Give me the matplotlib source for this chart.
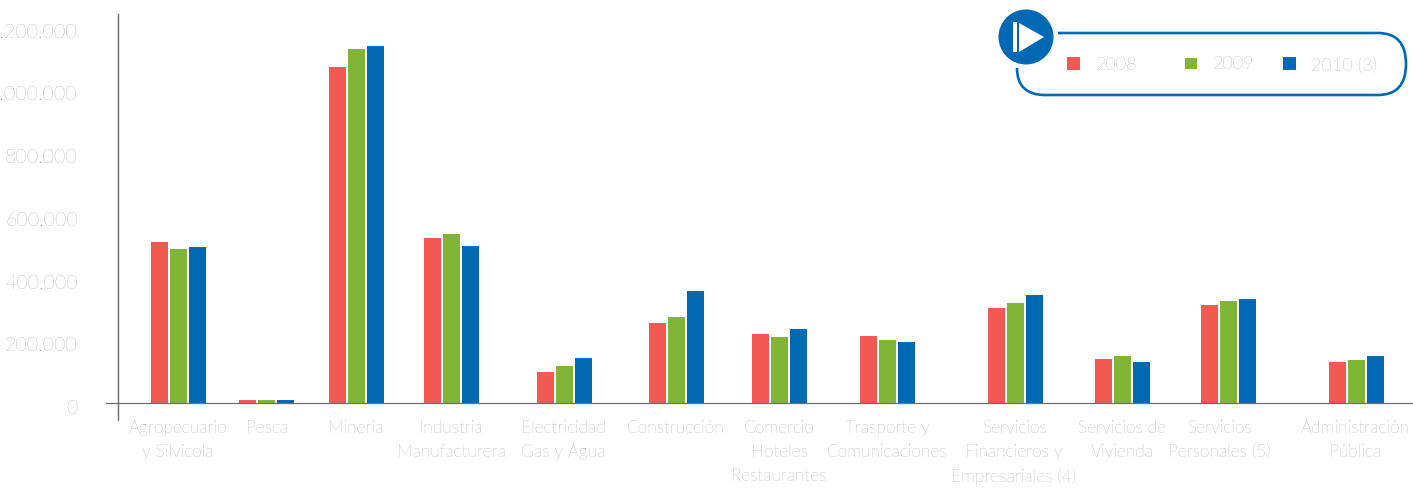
import matplotlib
matplotlib.use("Agg")
import matplotlib.pyplot as plt
import numpy as np
from matplotlib.path import Path
from matplotlib.patches import PathPatch, Circle, Polygon, Rectangle
from matplotlib.transforms import ScaledTranslation

categories = ["Agropecuario\ny Silvícola", "Pesca", "Minería", "Industria\nManufacturera",
              "Electricidad\nGas y Agua", "Construcción", "Comercio\nHoteles\nRestaurantes",
              "Trasporte y\nComunicaciones", "Servicios\nFinancieros y\nEmpresariales (4)",
              "Servicios de\nVivienda", "Servicios\nPersonales (5)", "Administración\nPública"]
series_names = ["2008", "2009", "2010 (3)"]
v2008 = [513000, 10000, 1072000, 526000, 99000, 255000, 220000, 214000, 303000, 140000, 313000, 131000]
v2009 = [491000, 10000, 1129000, 539000, 118000, 274000, 210000, 201000, 319000, 150000, 325000, 137000]
v2010 = [498000, 10000, 1139000, 501000, 144000, 357000, 236000, 195000, 344000, 131000, 332000, 150000]
y_ticks = [0, 200000, 400000, 600000, 800000, 1000000, 1200000]
y_labels = ["0", "200.000", "400.000", "600.000", "800.000", "1.000.000", "1.200.000"]

# layout (pixel-like positions of the unevenly spaced groups)
group_x = [178.5, 266.5, 356.5, 451.5, 564, 676.5, 779.5, 887.5, 1015.5, 1122.5, 1228.5, 1356]
label_x = [178, 267, 356, 451, 563, 676, 779, 887, 1014, 1122, 1219, 1355]
colors = ["#F15A52", "#82B537", "#0069B4"]
gray = "#808080"
W, H = 1413, 492
plt.rcParams['font.family'] = ['Lato', 'DejaVu Sans']

fig = plt.figure(figsize=(W/100, H/100), dpi=100)
k = 0.0003135
top_px, bot_px, base_px, left_px = 14, 420, 403, 118
ax = fig.add_axes([left_px/W, 1-bot_px/H, (W-left_px)/W, (bot_px-top_px)/H])
ax.set_xlim(left_px, W)
ax.set_ylim(-(bot_px-base_px)/k, (base_px-top_px)/k)

for off, vals, c, name in zip((-19, 0, 19), (v2008, v2009, v2010), colors, series_names):
    ax.bar(np.array(group_x)+off, vals, width=17, color=c, label=name, zorder=2)

ax.axhline(0, color="#6e6e6e", lw=0.9, zorder=3)
ax.plot([106, left_px], [0, 0], color="#6e6e6e", lw=0.9, clip_on=False, zorder=3)

for s in ("top", "right", "bottom"):
    ax.spines[s].set_visible(False)
ax.spines["left"].set_color("#6e6e6e")
ax.spines["left"].set_linewidth(1.0)

ax.set_yticks(y_ticks)
ax.set_yticklabels(y_labels, fontsize=14, color=gray, fontweight="light")
ax.tick_params(axis="y", length=0, pad=29)
shift = ScaledTranslation(0, -4/72*0.72, fig.dpi_scale_trans)
for t in ax.get_yticklabels():
    t.set_transform(t.get_transform() + shift)

ax.set_xticks(label_x)
ax.set_xticklabels(categories, fontsize=12.5, color=gray, fontweight="light", linespacing=1.62, va="top")
ax.tick_params(axis="x", length=0, pad=0)
shift_x = ScaledTranslation(0, 0, fig.dpi_scale_trans)

# legend decoration in pixel coordinates
ov = fig.add_axes([0, 0, 1, 1], zorder=5)
ov.set_xlim(0, W); ov.set_ylim(H, 0); ov.axis("off"); ov.patch.set_alpha(0)
blue = colors[2]
r = 33
verts = [(1058, 33), (1406-r, 33), (1406, 33), (1406, 33+r/1), (1406, 95-r+r), (1406, 95), (1406-r, 95),
         (1017+r, 95), (1017, 95), (1017, 68)]
codes = [Path.MOVETO, Path.LINETO, Path.CURVE3, Path.CURVE3, Path.MOVETO, Path.MOVETO, Path.MOVETO,
         Path.MOVETO, Path.MOVETO, Path.MOVETO]
p = Path([(1058, 33), (1378, 33), (1406, 33), (1406, 64), (1406, 95), (1378, 95),
          (1045, 95), (1017, 95), (1017, 68)],
         [Path.MOVETO, Path.LINETO, Path.CURVE3, Path.CURVE3, Path.CURVE3, Path.CURVE3,
          Path.LINETO, Path.CURVE3, Path.CURVE3])
ov.add_patch(PathPatch(p, fill=False, edgecolor=blue, lw=1.9))
ov.add_patch(Circle((1026, 37), 27.5, color=blue, lw=0))
ov.add_patch(Rectangle((1013, 22), 4, 30, color="white", lw=0))
ov.add_patch(Polygon([(1019, 23), (1044, 37), (1019, 52)], color="white", lw=0))
boxes = [(1067, 57, 13, 13), (1185, 58, 12, 11), (1283, 57, 13, 13)]
texts = [(1096, 65), (1213, 64), (1311, 66)]
for (x, y, w, h), c, (tx, ty), name in zip(boxes, colors, texts, series_names):
    ov.add_patch(Rectangle((x, y), w, h, color=c, lw=0))
    ov.text(tx, ty, name, fontsize=13, color=gray, fontweight="light", va="center", ha="left")

fig.savefig("out.png", dpi=100)
